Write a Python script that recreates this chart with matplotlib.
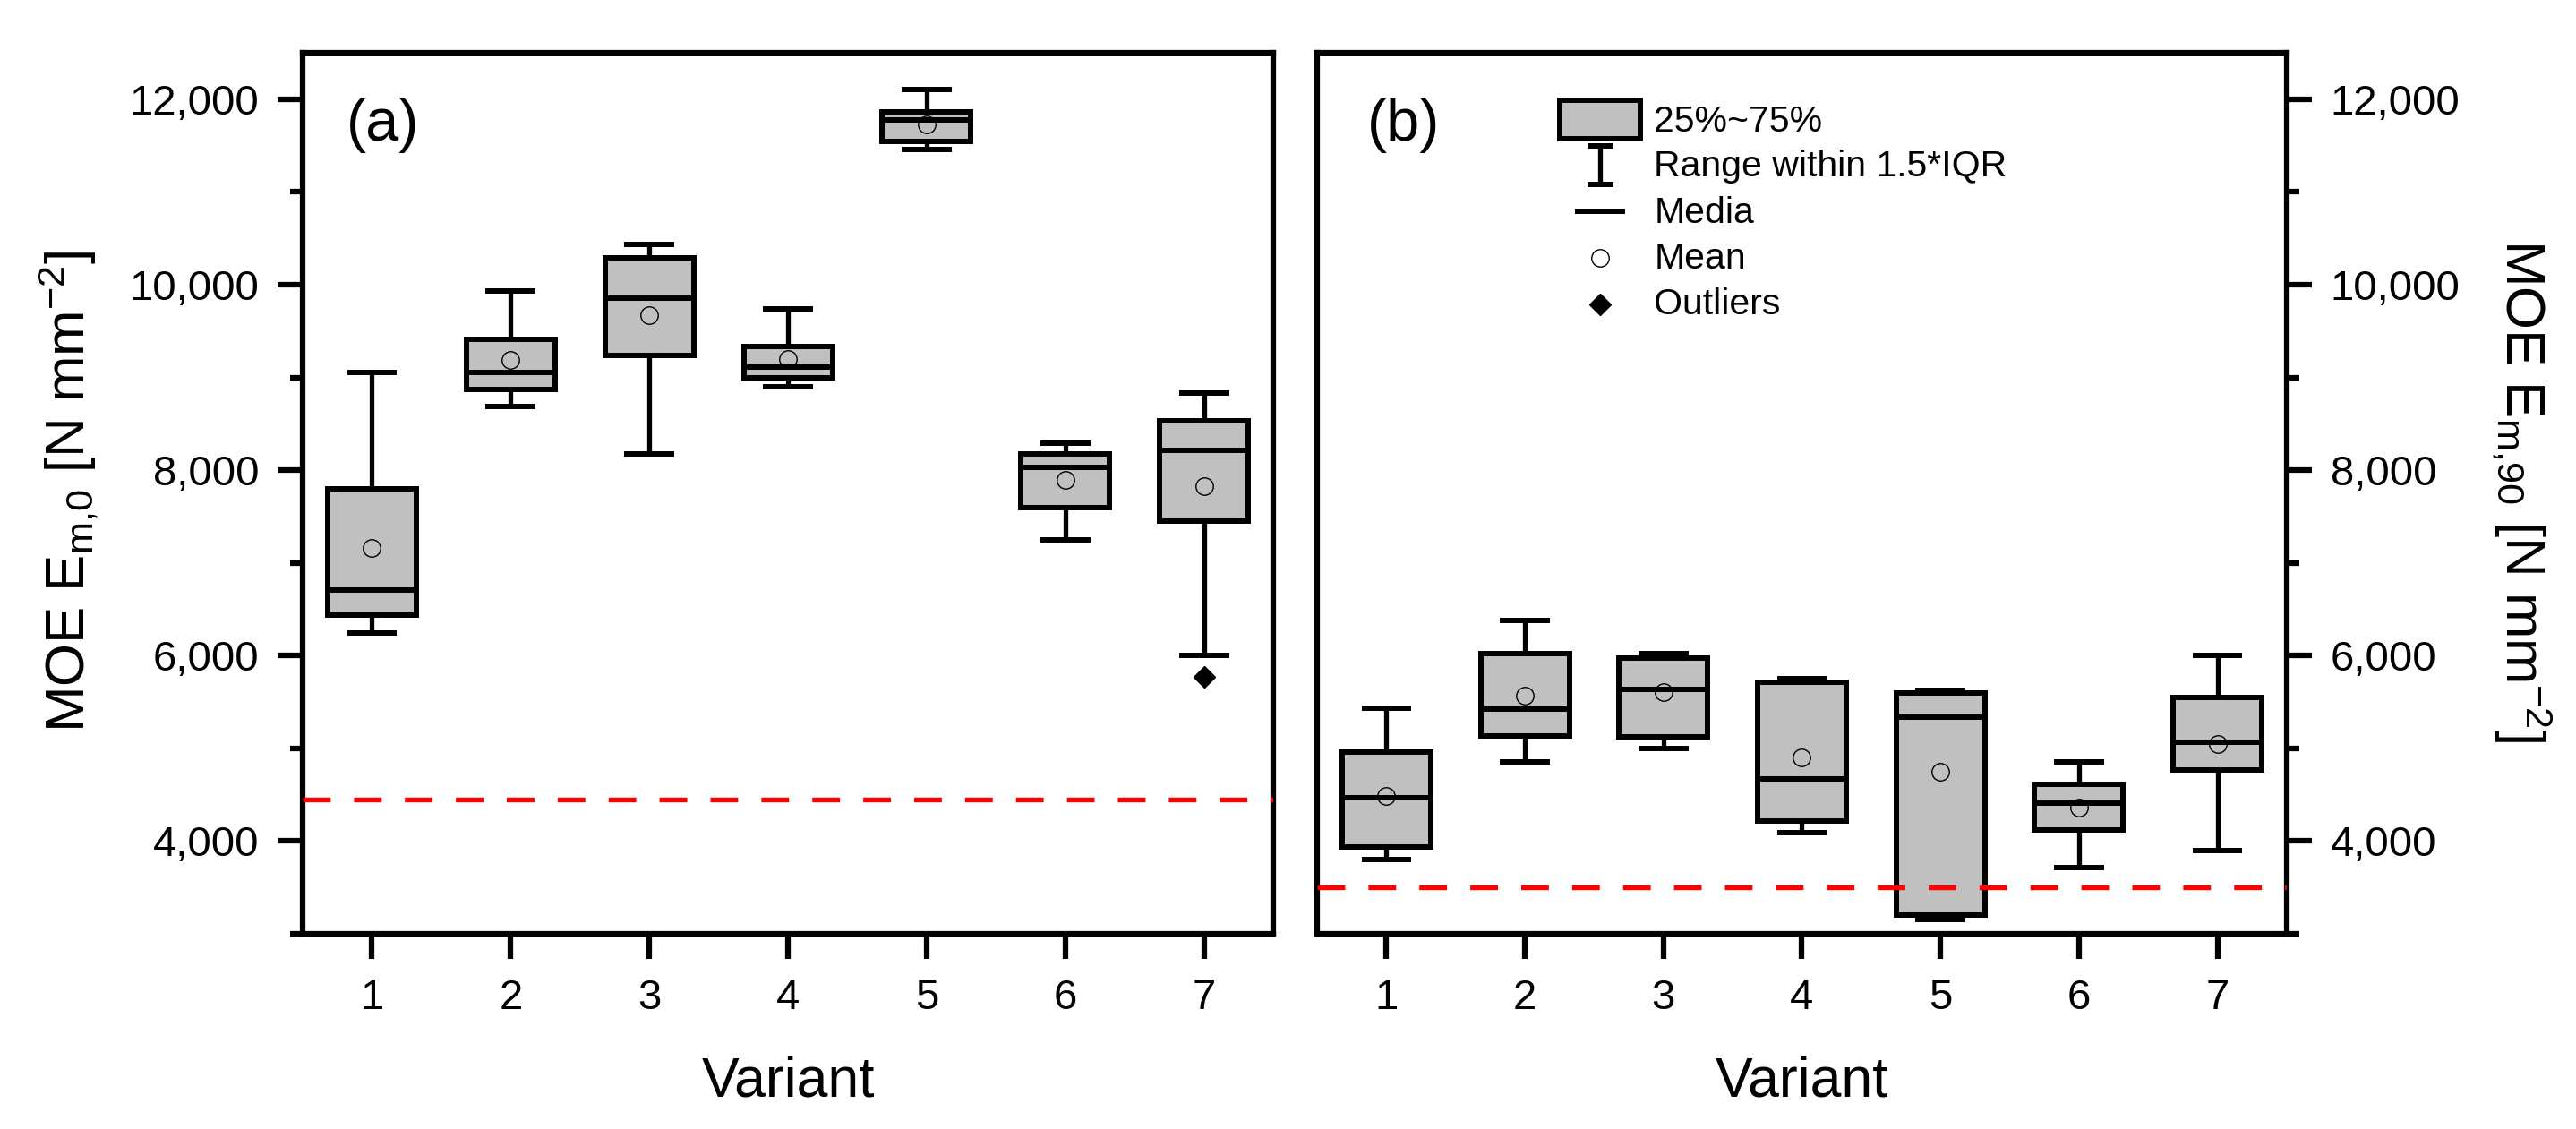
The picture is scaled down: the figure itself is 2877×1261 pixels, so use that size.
import numpy as np
import matplotlib
matplotlib.use('Agg')
import matplotlib.pyplot as plt
from matplotlib.patches import Rectangle
from matplotlib.lines import Line2D
from matplotlib.ticker import MultipleLocator, FuncFormatter

plt.rcParams['font.family'] = ['Liberation Sans', 'DejaVu Sans']
plt.rcParams['mathtext.fontset'] = 'custom'
plt.rcParams['mathtext.rm'] = 'Liberation Sans'
plt.rcParams['mathtext.default'] = 'regular'
plt.rcParams['lines.solid_capstyle'] = 'butt'

variants = [1, 2, 3, 4, 5, 6, 7]

# (a) MOE E_m,0
q1_a = [6440, 8870, 9240, 8995, 11545, 7595, 7450]
med_a = [6705, 9050, 9850, 9115, 11780, 8030, 8210]
q3_a = [7800, 9415, 10290, 9330, 11860, 8175, 8530]
wlo_a = [6245, 8685, 8175, 8900, 11460, 7245, 6000]
whi_a = [9050, 9930, 10435, 9740, 12105, 8295, 8830]
mean_a = [7160, 9190, 9670, 9200, 11730, 7890, 7825]
fliers_a = [[], [], [], [], [], [], [5775]]
limit_a = 4450

# (b) MOE E_m,90
q1_b = [3935, 5130, 5120, 4215, 3205, 4120, 4770]
med_b = [4465, 5425, 5635, 4670, 5335, 4410, 5065]
q3_b = [4960, 6020, 5970, 5715, 5600, 4610, 5545]
wlo_b = [3800, 4850, 4995, 4095, 3150, 3715, 3900]
whi_b = [5430, 6380, 6020, 5750, 5625, 4850, 6000]
mean_b = [4490, 5565, 5605, 4905, 4745, 4360, 5045]
fliers_b = [[], [], [], [], [], [], []]
limit_b = 3500

legend_labels = ['25%~75%', 'Range within 1.5*IQR', 'Media', 'Mean', 'Outliers']

BOX_GREY = '#C0C0C0'
LW = 4.3
WLW = 3.8


def make_stats(q1, med, q3, wlo, whi, mean, fliers):
    stats = []
    for i in range(len(q1)):
        stats.append(dict(q1=q1[i], med=med[i], q3=q3[i], whislo=wlo[i],
                          whishi=whi[i], mean=mean[i], fliers=fliers[i]))
    return stats


def draw_panel(ax, stats, limit):
    ax.bxp(stats, positions=variants, widths=0.64, capwidths=0.36,
           patch_artist=True, showmeans=True, showfliers=True,
           boxprops=dict(facecolor=BOX_GREY, edgecolor='black', linewidth=LW,
                         joinstyle='miter'),
           medianprops=dict(color='black', linewidth=LW),
           whiskerprops=dict(color='black', linewidth=WLW),
           capprops=dict(color='black', linewidth=LW),
           meanprops=dict(marker='o', markerfacecolor='none',
                          markeredgecolor='black', markersize=14,
                          markeredgewidth=1.0),
           flierprops=dict(marker='D', markerfacecolor='black',
                           markeredgecolor='black', markersize=12.5))
    ax.axhline(limit, color='#FF0000', linewidth=3.9, dashes=(5.7, 4.8), zorder=4)
    ax.set_xlim(0.5, 7.5)
    ax.set_ylim(3000, 12500)
    ax.set_xticks(variants)
    ax.set_xticklabels([str(v) for v in variants])
    ax.yaxis.set_major_locator(MultipleLocator(2000))
    ax.yaxis.set_minor_locator(MultipleLocator(1000))
    ax.yaxis.set_major_formatter(FuncFormatter(lambda v, p: f'{v:,.0f}'))
    for s in ax.spines.values():
        s.set_linewidth(4.5)
    ax.tick_params(axis='both', which='major', length=20, width=4.5,
                   labelsize=34, direction='out')
    ax.tick_params(axis='x', pad=16)
    ax.tick_params(axis='y', pad=15)
    ax.tick_params(axis='y', which='minor', length=10, width=4.5, direction='out')
    ax.tick_params(axis='x', which='minor', bottom=False, top=False)
    ax.set_xlabel('Variant', fontsize=45, labelpad=30)


fig = plt.figure(figsize=(28.77, 12.61), dpi=100)
ax1 = fig.add_axes([0.1175, 0.1729, 0.3768, 0.7803])
ax2 = fig.add_axes([0.5113, 0.1729, 0.3764, 0.7803])

draw_panel(ax1, make_stats(q1_a, med_a, q3_a, wlo_a, whi_a, mean_a, fliers_a), limit_a)
draw_panel(ax2, make_stats(q1_b, med_b, q3_b, wlo_b, whi_b, mean_b, fliers_b), limit_b)

ax1.tick_params(axis='y', which='both', left=True, right=False)
ax2.yaxis.tick_right()
ax2.tick_params(axis='y', which='both', left=False, right=True)

ax1.text(0.045, 0.918, '(a)', transform=ax1.transAxes, fontsize=48,
         ha='left', va='center')
ax2.text(0.052, 0.918, '(b)', transform=ax2.transAxes, fontsize=48,
         ha='left', va='center')

fig.text(0.0264, 0.565, r'MOE E$_{m{,}0}$ [N mm$^{-2}$]', fontsize=44.5,
         rotation=90, ha='center', va='center')
fig.text(0.979, 0.565, r'MOE E$_{m{,}90}$ [N mm$^{-2}$]', fontsize=44.5,
         rotation=270, ha='center', va='center')

# legend drawn by hand in panel (b)
T = ax2.transAxes
ax2.add_patch(Rectangle((0.2507, 0.9022), 0.0831, 0.0441, transform=T,
                        facecolor=BOX_GREY, edgecolor='black', linewidth=LW,
                        joinstyle='miter', clip_on=False))
ax2.add_line(Line2D([0.2921, 0.2921], [0.8511, 0.8943], transform=T,
                    color='black', linewidth=WLW))
for yy in (0.8511, 0.8943):
    ax2.add_line(Line2D([0.2791, 0.3054], [yy, yy], transform=T,
                        color='black', linewidth=LW))
ax2.add_line(Line2D([0.2662, 0.3176], [0.8204, 0.8204], transform=T,
                    color='black', linewidth=LW))
ax2.add_line(Line2D([0.2921], [0.7676], transform=T, marker='o',
                    markerfacecolor='none', markeredgecolor='black',
                    markersize=14, markeredgewidth=1.0, linestyle='none'))
ax2.add_line(Line2D([0.2921], [0.7144], transform=T, marker='D',
                    markerfacecolor='black', markeredgecolor='black',
                    markersize=12.5, linestyle='none'))
for lab, yy in zip(legend_labels, [0.9103, 0.8594, 0.8066, 0.7551, 0.7036]):
    ax2.text(0.3475, yy, lab, transform=T, fontsize=29.5, ha='left', va='baseline')

fig.savefig('out.png', dpi=100)
